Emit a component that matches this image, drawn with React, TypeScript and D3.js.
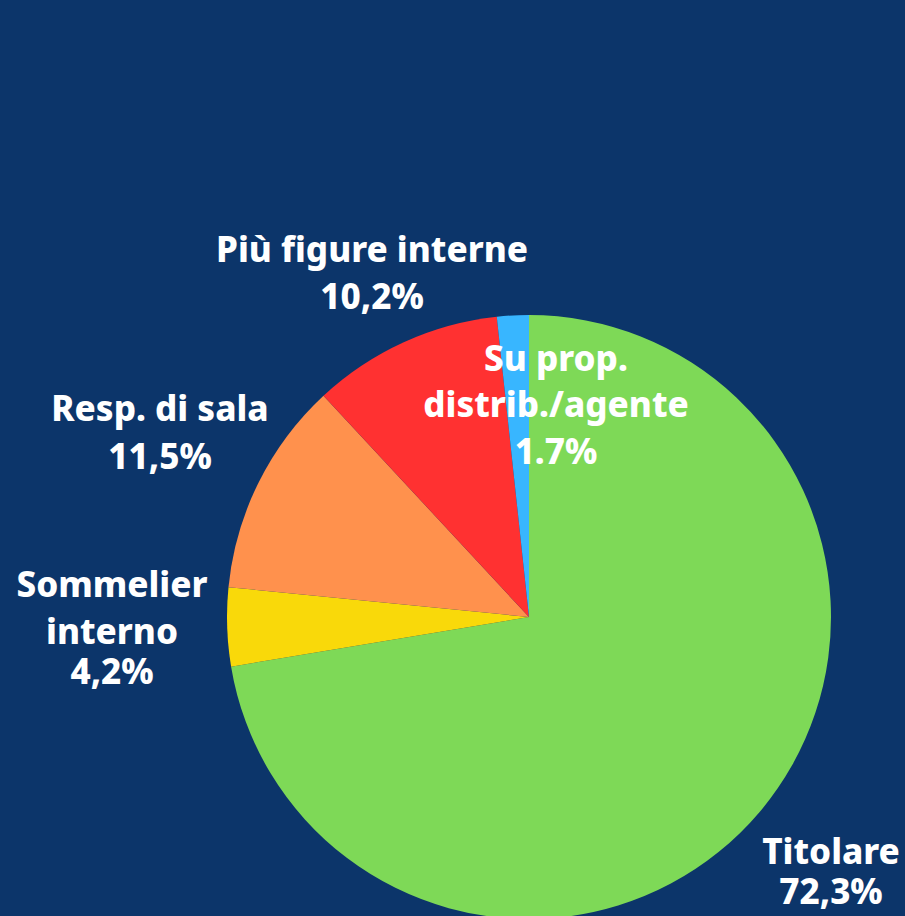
import React from 'react';
import * as d3 from 'd3';

const categories = ['Titolare', 'Sommelier interno', 'Resp. di sala', 'Più figure interne', 'Su prop. distrib./agente'];
const values = [72.3, 4.2, 11.5, 10.2, 1.7];
const valueLabels = ['72,3%', '4,2%', '11,5%', '10,2%', '1.7%'];
const colors = ['#7ed957', '#f9d90a', '#ff914d', '#ff3131', '#38b6ff'];

// label lines and placement (relative to pie centre)
const labelLines = [
  ['Titolare', '72,3%'],
  ['Sommelier', 'interno', '4,2%'],
  ['Resp. di sala', '11,5%'],
  ['Più figure interne', '10,2%'],
  ['Su prop.', 'distrib./agente', '1.7%'],
];
const labelPos = [
  { dx: 302, baselines: [247, 287] },
  { dx: -417, baselines: [-20, 27, 67] },
  { dx: -369, baselines: [-196, -148] },
  { dx: -157, baselines: [-355, -308] },
  { dx: 27, baselines: [-246, -200, -153] },
];

const W = 905;
const H = 916;

const App: React.FC = () => {
  const cx = 529;
  const cy = 617;
  const r = 302;

  const pie = d3.pie<number>().sort(null).value((d) => d);
  const arcs = pie(values);
  const arc = d3.arc<d3.PieArcDatum<number>>().innerRadius(0).outerRadius(r);

  return (
    <svg width={W} height={H} style={{ position: 'fixed', left: 0, top: 0, display: 'block' }}>
      <rect width={W} height={H} fill="#0c356a" />
      <g transform={`translate(${cx},${cy})`}>
        {arcs.map((a, i) => (
          <path key={categories[i]} d={arc(a) || ''} fill={colors[i]} />
        ))}
        {labelLines.map((lines, i) => (
          <text
            key={valueLabels[i]}
            textAnchor="middle"
            fill="#ffffff"
            fontFamily="'Noto Sans', 'Open Sans', sans-serif"
            fontWeight={800}
            fontSize={35}
          >
            {lines.map((t, j) => (
              <tspan key={j} x={labelPos[i].dx} y={labelPos[i].baselines[j]}>
                {t}
              </tspan>
            ))}
          </text>
        ))}
      </g>
    </svg>
  );
};

export default App;
